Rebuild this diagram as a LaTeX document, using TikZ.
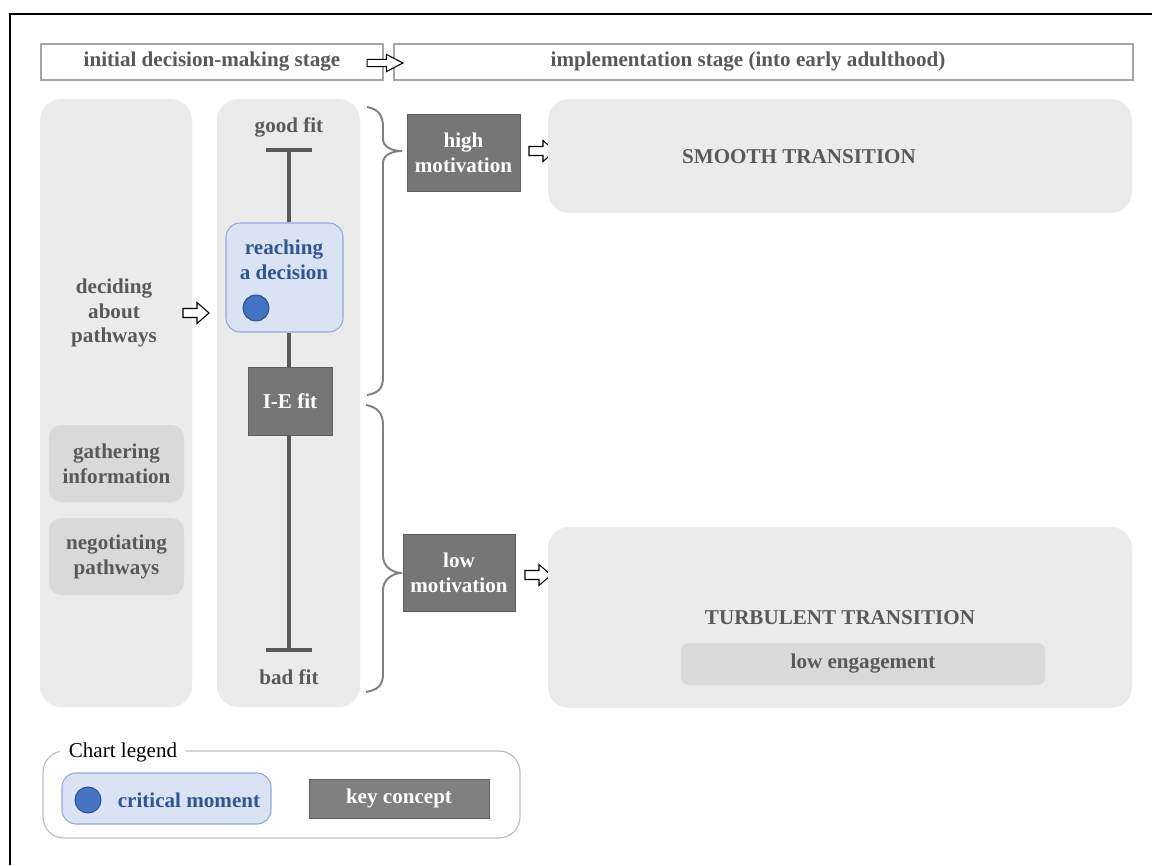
\documentclass[tikz,border=0pt]{standalone}
\usepackage{fontspec}
\setmainfont{Liberation Serif}
\usetikzlibrary{fit,calc}
\definecolor{panelgray}{HTML}{EBEBEB}
\definecolor{subgray}{HTML}{D9D9D9}
\definecolor{keygray}{HTML}{767676}
\definecolor{keyborder}{HTML}{5E5E5E}
\definecolor{txtgray}{HTML}{595959}
\definecolor{hdrborder}{HTML}{A6A6A6}
\definecolor{critfill}{HTML}{DAE3F3}
\definecolor{critborder}{HTML}{8FAADC}
\definecolor{bluetxt}{HTML}{2F5597}
\definecolor{dotblue}{HTML}{4472C4}
\definecolor{dotborder}{HTML}{2F528F}
\definecolor{bracegray}{HTML}{808080}
\definecolor{legborder}{HTML}{BFBFBF}
\tikzset{
  every node/.style={inner sep=0pt},
  panel/.style={fill=panelgray, rounded corners=12pt, inner sep=0pt},
  subbox/.style={fill=subgray, rounded corners=7pt, inner sep=0pt},
  header/.style={draw=hdrborder, line width=0.9pt, fill=white, inner sep=0pt},
  keybox/.style={fill=keygray, draw=keyborder, line width=0.5pt, inner sep=0pt},
  critbox/.style={fill=critfill, draw=critborder, line width=0.6pt, rounded corners=8pt, inner sep=0pt},
  lbl/.style={text=txtgray, font=\fontsize{12}{14.2}\selectfont\bfseries, align=center},
  keylbl/.style={text=white, font=\fontsize{12}{14.2}\selectfont\bfseries, align=center},
  bluelbl/.style={text=bluetxt, font=\fontsize{12}{14.2}\selectfont\bfseries, align=center},
  dot/.style={circle, fill=dotblue, draw=dotborder, line width=0.6pt, minimum size=0.52cm},
  bar/.style={draw=txtgray, line width=2.8pt},
  bracepath/.style={draw=bracegray, line width=1.1pt},
  harrow/.pic={\draw[fill=white, line width=0.6pt, line join=miter]
     (-13,-4.5) -- (1,-4.5) -- (1,-10.5) -- (13,0) -- (1,10.5) -- (1,4.5) -- (-13,4.5) -- cycle;}
}
\begin{document}
\begin{tikzpicture}[x=0.02cm, y=-0.02cm]
\useasboundingbox (0,0) rectangle (1152,865);
% frame
\draw[line width=1.7pt] (10,865) -- (10,14) -- (1152,14);

% headers
\node[header, fit={(41,44) (383,80)}] (h1) {};
\node[lbl] at (212,62) (h1t) {initial decision-making stage};
\node[header, fit={(394,44) (1133,80)}] (h2) {};
\node[lbl] at (748,62) (h2t) {implementation stage (into early adulthood)};
\pic[xscale=1.38, yscale=0.82] at (385,63) {harrow};

% left column
\node[panel, fit={(40,99) (192,707)}] (leftcol) {};
\node[lbl] at (114,313) (decide) {deciding\\about\\pathways};
\node[subbox, fit={(49,425) (184,502)}] (gather) {};
\node[lbl] at (gather) (gathert) {gathering\\information};
\node[subbox, fit={(49,518) (184,595)}] (negot) {};
\node[lbl] at (negot) (negott) {negotiating\\pathways};
\pic at (196,313) {harrow};

% middle column
\node[panel, fit={(217,99) (360,707)}] (midcol) {};
\node[lbl] at (289,127) (good) {good fit};
\node[lbl] at (289,677) (bad) {bad fit};
\coordinate (gtop) at (289,150);
\coordinate (btop) at (289,650);
\node[critbox, fit={(226,223) (343,332)}] (reach) {};
\node[bluelbl] at (284,260) (reacht) {reaching\\a decision};
\node[dot] at (256,308) (rdot) {};
\node[keybox, fit={(248,367) (332,435)}] (iefit) {};
\node[keylbl] at (iefit) (iefitt) {I-E fit};
\draw[bar] (266,150) -- (312,150);
\draw[bar] (266,650) -- (312,650);
\draw[bar] (gtop) -- (gtop |- reach.north);
\draw[bar] (gtop |- reach.south) -- (gtop |- iefit.north);
\draw[bar] (gtop |- iefit.south) -- (btop);

% braces
\draw[bracepath] (367,107) .. controls (378,109) and (383,115) .. (383,127) -- (383,139)
  .. controls (383,147) and (392,151) .. (402,151)
  .. controls (392,151) and (383,155) .. (383,163) -- (383,377)
  .. controls (383,389) and (378,393) .. (367,395);
\draw[bracepath] (366,405) .. controls (377,407) and (383,413) .. (383,425) -- (383,556)
  .. controls (383,566) and (392,573) .. (402,573)
  .. controls (392,573) and (383,580) .. (383,590) -- (383,674)
  .. controls (383,686) and (377,690) .. (366,692);

% motivation boxes
\node[keybox, fit={(407,114) (520,191)}] (highm) {};
\node[keylbl] at (highm) (highmt) {high\\motivation};
\node[keybox, fit={(403,534) (515,611)}] (lowm) {};
\node[keylbl] at (lowm) (lowmt) {low\\motivation};
\pic at (542,151) {harrow};
\pic at (538,575) {harrow};

% outcomes
\node[panel, fit={(548,99) (1132,213)}] (smooth) {};
\node[lbl] at (799,157) (smootht) {SMOOTH TRANSITION};
\node[panel, fit={(548,527) (1132,708)}] (turb) {};
\node[lbl] at (840,618) (turbt) {TURBULENT TRANSITION};
\node[subbox, rounded corners=4pt, fit={(681,643) (1045,685)}] (loweng) {};
\node[lbl] at (loweng) (lowengt) {low engagement};

% legend
\node[draw=legborder, line width=0.7pt, rounded corners=12pt, fit={(43,751) (520,838)}] (legend) {};
\node[fill=white, inner xsep=5pt, inner ysep=1pt, font=\fontsize{12}{14}\selectfont] at (123,752) (legt) {Chart legend};
\node[critbox, fit={(62,773) (271,824)}] (legcrit) {};
\node[dot] at (88,800) (legdot) {};
\node[bluelbl] at (189,800) (legcritt) {critical moment};
\node[keybox, fill=gray!100!white, fit={(309,779) (489,818)}] (legkey) {};
\node[keylbl] at (legkey) (legkeyt) {key concept};
\end{tikzpicture}
\end{document}
